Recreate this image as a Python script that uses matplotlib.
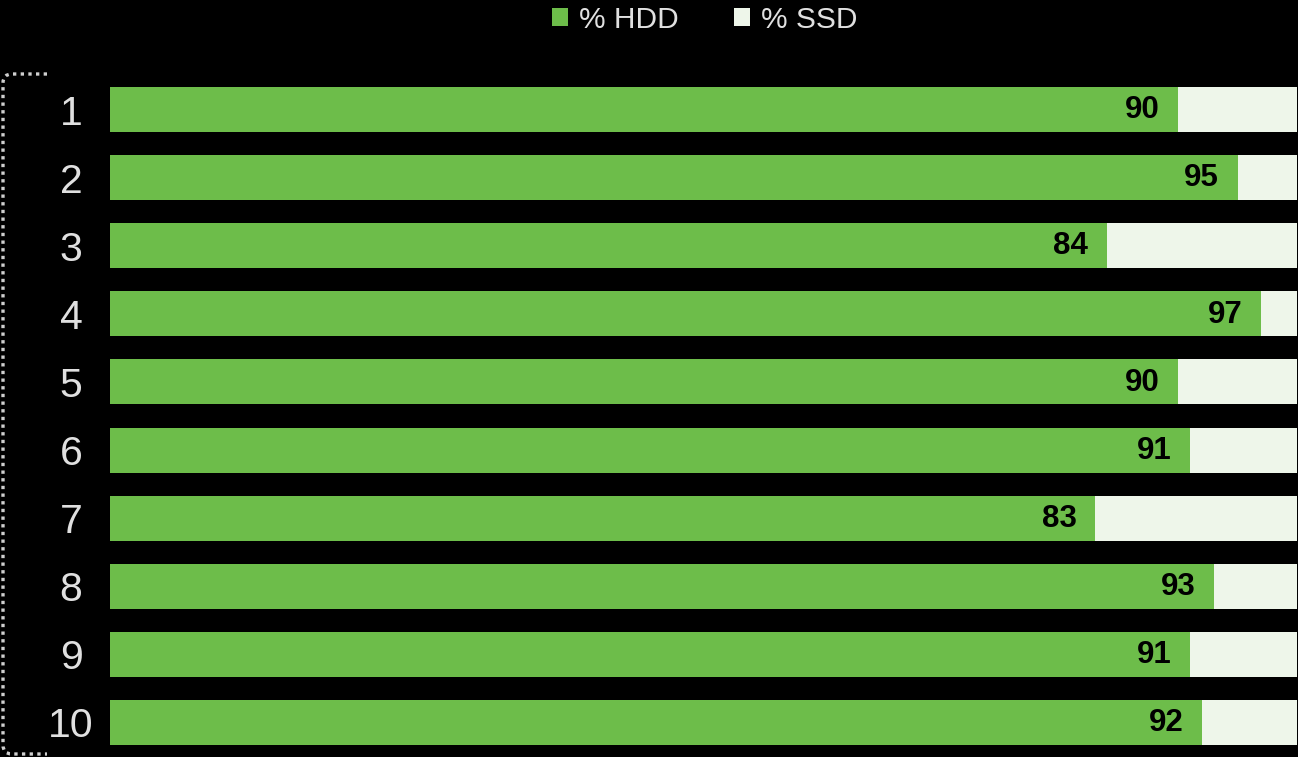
import matplotlib.pyplot as plt
from matplotlib.path import Path
from matplotlib.patches import PathPatch
import numpy as np

plt.rcParams['font.family'] = ['Liberation Sans', 'DejaVu Sans']

# data
ranks = ['1', '2', '3', '4', '5', '6', '7', '8', '9', '10']
hdd_pct = [90, 95, 84, 97, 90, 91, 83, 93, 91, 92]
ssd_pct = [100 - v for v in hdd_pct]

green = '#6dbd4a'
ssd_col = '#eef6ea'
txt_col = '#e0e0e0'

W, H = 1298, 757
fig = plt.figure(figsize=(W / 100, H / 100), dpi=100, facecolor='black')
ax = fig.add_axes([110 / W, 0.5 / H, 1187 / W, 681 / H])
ax.set_facecolor('none')

y = np.arange(1, len(ranks) + 1)
ax.barh(y, hdd_pct, height=0.66, color=green, label='% HDD')
ax.barh(y, ssd_pct, left=hdd_pct, height=0.66, color=ssd_col, label='% SSD')

for yi, v in zip(y, hdd_pct):
    ax.annotate(str(v), xy=(v, yi), xytext=(-13.5, -0.5), textcoords='offset points',
                ha='right', va='center', fontsize=22.5, fontweight='bold', color='black')

ax.set_xlim(0, 100)
ax.set_ylim(10.5, 0.5)
ax.set_yticks(y)
ax.set_yticklabels(ranks, fontsize=29.5, color=txt_col)
ax.tick_params(axis='y', length=0, pad=28)
for t in ax.get_yticklabels():
    t.set_horizontalalignment('center')
ax.set_xticks([])
for s in ax.spines.values():
    s.set_visible(False)

fig.legend(loc='upper center', bbox_to_anchor=(0.5427, 1.028), ncol=2, frameon=False,
           fontsize=21.5, handlelength=0.55, handleheight=0.55, handletextpad=0.35,
           columnspacing=1.85, labelcolor=txt_col)

# dotted bracket on the left (pixel coords, y measured from top)
pts = [(47, 74), (12, 74), (3, 74), (3, 83), (3, 745), (3, 754), (12, 754), (47, 754)]
codes = [Path.MOVETO, Path.LINETO, Path.CURVE3, Path.CURVE3,
         Path.LINETO, Path.CURVE3, Path.CURVE3, Path.LINETO]
verts = [(px / W, 1 - py / H) for px, py in pts]
br = PathPatch(Path(verts, codes), transform=fig.transFigure, fill=False,
               edgecolor='#cfcfcf', linewidth=2.4, linestyle=(0, (1, 1.3)))
fig.patches.append(br)

fig.savefig('out.png', dpi=100, facecolor='black')
